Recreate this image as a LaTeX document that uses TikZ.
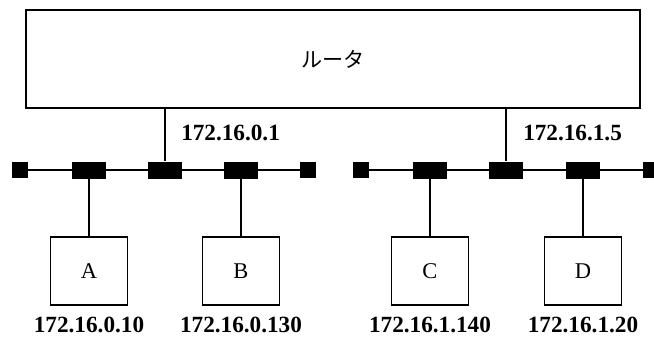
\documentclass[tikz,border=0pt]{standalone}
\usepackage{fontspec}
\setmainfont{Liberation Serif}
\newfontfamily\jpfont{Noto Sans CJK JP}
\usetikzlibrary{positioning}

\begin{document}
\begin{tikzpicture}[x=0.025cm,y=-0.025cm,
  router/.style={draw,line width=1.3pt,minimum width=15.35cm,minimum height=2.45cm},
  tap/.style={fill=black,inner sep=0pt,minimum width=0.825cm,minimum height=0.425cm},
  term/.style={fill=black,inner sep=0pt,minimum size=0.4cm},
  host/.style={draw,line width=1.2pt,minimum width=1.925cm,minimum height=1.7cm,font=\fontsize{16}{19}\selectfont},
  addr/.style={inner sep=0pt,font=\fontsize{16.5}{19}\selectfont\bfseries},
  wire/.style={line width=1pt}]
\useasboundingbox (0,0) rectangle (654,337);
%% router
\node[router] (router) at (333,59) {\jpfont\fontsize{15}{18}\selectfont ルータ};
%% left segment
\node[term] (lend) at (20,170) {};
\node[tap] (tapA) at (89,170) {};
\node[tap] (rtL) at (165,170) {};
\node[tap] (tapB) at (241,170) {};
\node[term] (lend2) at (308,170) {};
\draw[wire,line width=1.3pt] (lend) -- (lend2);
%% right segment
\node[term] (rend) at (361,170) {};
\node[tap] (tapC) at (430,170) {};
\node[tap] (rtR) at (506,170) {};
\node[tap] (tapD) at (583,170) {};
\node[term] (rend2) at (651,170) {};
\draw[wire,line width=1.3pt] (rend) -- (rend2);
%% router ports
\draw[wire] (router.south -| rtL) -- (rtL);
\draw[wire] (router.south -| rtR) -- (rtR);
\node[addr,anchor=west] (ipL) at (181,133) {172.16.0.1};
\node[addr,anchor=west] (ipR) at (523,133) {172.16.1.5};
%% hosts
\node[host] (A) at (89,271) {A};
\node[host] (B) at (241,271) {B};
\node[host] (C) at (430,271) {C};
\node[host] (D) at (583,271) {D};
\foreach \h/\t in {A/tapA,B/tapB,C/tapC,D/tapD}
  \draw[wire] (\t) -- (\h);
\node[addr] (ipA) at (89,325) {172.16.0.10};
\node[addr] (ipB) at (241,325) {172.16.0.130};
\node[addr] (ipC) at (430,325) {172.16.1.140};
\node[addr] (ipD) at (583,325) {172.16.1.20};
\end{tikzpicture}
\end{document}
